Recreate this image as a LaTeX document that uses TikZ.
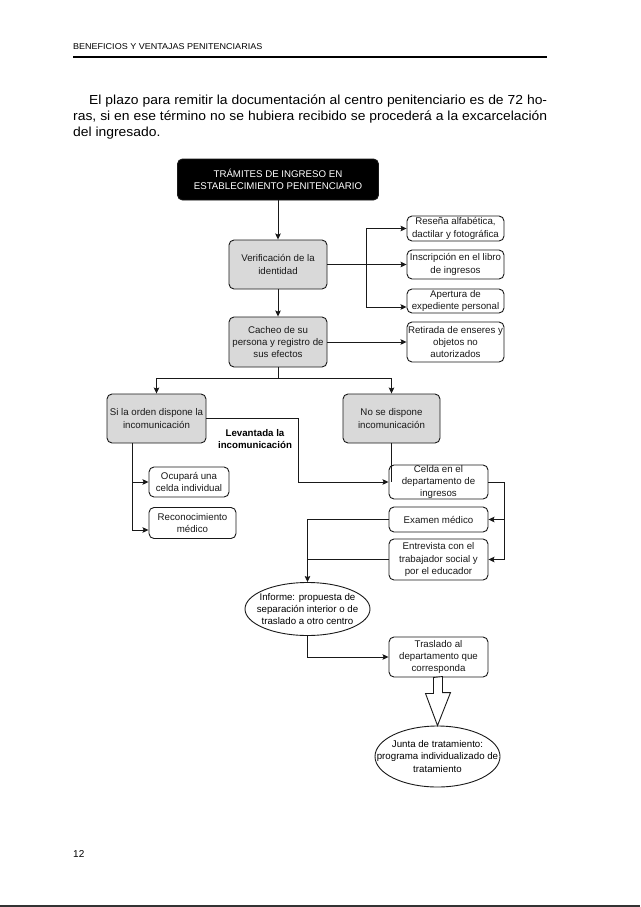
\documentclass[tikz,border=0pt]{standalone}
\usepackage{fontspec}
\setmainfont{Liberation Sans}
\newfontfamily\widefont[FakeStretch=1.06]{Liberation Sans}
\usetikzlibrary{arrows.meta,positioning,calc,shapes.geometric}
\definecolor{stepgray}{RGB}{217,217,217}
\definecolor{inkcolor}{RGB}{25,25,25}
\tikzset{
  box/.style      = {draw=inkcolor, line width=0.9pt, rounded corners=5pt,
                     align=center, inner sep=1pt, text=inkcolor,
                     font=\fontsize{9.7}{12.3}\selectfont},
  stepbox/.style  = {box, fill=stepgray},
  infobox/.style  = {box, fill=white},
  titlebox/.style = {box, fill=black, text=white},
  oval/.style     = {ellipse, draw=inkcolor, line width=0.9pt, fill=white,
                     align=center, inner xsep=-18pt, inner ysep=0pt,
                     font=\fontsize{9.7}{12.3}\selectfont},
  conn/.style     = {-{Stealth[length=6pt,width=5.5pt,inset=1pt]},
                     line width=0.9pt, draw=inkcolor},
  link/.style     = {line width=0.9pt, draw=inkcolor},
  hollow/.style   = {draw=inkcolor, line width=0.9pt, fill=white, line join=miter},
  headtext/.style = {anchor=base west, inner sep=0pt, font=\widefont\fontsize{8.5}{10}\selectfont},
  bodytext/.style = {anchor=base west, inner sep=0pt, font=\widefont\fontsize{13.1}{15}\selectfont},
  boldlabel/.style = {align=center, inner sep=0pt, font=\bfseries\fontsize{9.7}{12.3}\selectfont}
}

\begin{document}
\begin{tikzpicture}[x=1pt,y=-1pt]

% page
\fill[white] (0,0) rectangle (640,907);
\useasboundingbox (0,0) rectangle (640,907);

% --- running head and text ---
\node[headtext] (head) at (73,50) {BENEFICIOS Y VENTAJAS PENITENCIARIAS};
\draw[line width=1.8pt] (73,57) -- (547,57);
\foreach \y/\txt [count=\n] in {
  104.5/{\makebox[474pt][s]{\hspace{16pt}El plazo para remitir la documentación al centro penitenciario es de 72 ho-}},
  120.5/{\makebox[474pt][s]{ras, si en ese término no se hubiera recibido se procederá a la excarcelación}},
  136.5/{del ingresado.}}{
  \node[bodytext] (line\n) at (73,\y) {\txt};
}

% --- top of the chart ---
\node[titlebox, minimum width=201pt, minimum height=41pt] (title) at (278,179.5)
  {TRÁMITES DE INGRESO EN\\ESTABLECIMIENTO PENITENCIARIO};
\node[stepbox, minimum width=98pt, minimum height=49pt] (verif) at (278,264.5)
  {Verificación de la\\identidad};
\node[stepbox, minimum width=98pt, minimum height=50pt] (cacheo) at (278,342)
  {Cacheo de su\\persona y registro de\\sus efectos};

% --- boxes on the right ---
\foreach \name/\y/\h/\txt in {
  resena/228.5/25/{Reseña alfabética,\\dactilar y fotográfica},
  inscrip/264.5/29/{Inscripción en el libro\\de ingresos},
  apertura/301/24/{Apertura de\\expediente personal},
  retirada/342/40/{Retirada de enseres y\\objetos no\\autorizados}}{
  \node[infobox, minimum width=97pt, minimum height=\h pt] (\name) at (455.5,\y) {\txt};
}

\draw[conn] (title.south) -- (verif.north);
\draw[conn] (verif.south) -- (cacheo.north);
\coordinate (vsplit) at (366,264.5);
\draw[link] (verif.east) -- (vsplit);
\draw[conn] (vsplit) |- (resena.west);
\draw[conn] (vsplit) -- (inscrip.west);
\draw[conn] (vsplit) |- ([yshift=-6pt]apertura.west);
\draw[conn] (cacheo.east) -- (retirada.west);

% --- two cases ---
\node[stepbox, minimum width=99pt, minimum height=49pt] (siorden) at (156.5,418.5)
  {Si la orden dispone la\\incomunicación};
\node[stepbox, minimum width=97pt, minimum height=49pt] (nodispone) at (391.5,418.5)
  {No se dispone\\incomunicación};
\coordinate (csplit) at (278,378);
\draw[link] (cacheo.south) -- (csplit);
\draw[conn] (csplit) -| (siorden.north);
\draw[conn] (csplit) -| (nodispone.north);

\node[boldlabel] (levantada) at (255,439) {Levantada la\\incomunicación};

% --- left branch ---
\node[infobox, minimum width=80pt, minimum height=30pt] (ocupara) at (189,482)
  {Ocupará una\\celda individual};
\node[infobox, minimum width=87pt, minimum height=31pt] (reconoc) at (192.5,523)
  {Reconocimiento\\médico};
\draw[conn] ([xshift=-24.5pt]siorden.south) |- (ocupara.west);
\draw[conn] ([xshift=-24.5pt]siorden.south) |- ([yshift=-7pt]reconoc.west);

% --- right branch ---
\node[infobox, minimum width=99pt, minimum height=34pt, inner ysep=-2pt] (celda) at (438.5,482)
  {Celda en el\\departamento de\\ingresos};
\node[infobox, minimum width=99pt, minimum height=25pt] (examen) at (438.5,519.5)
  {Examen médico};
\node[infobox, minimum width=99pt, minimum height=41pt] (entrevista) at (438.5,559.5)
  {Entrevista con el\\trabajador social y\\por el educador};

\draw[conn] (siorden.east) -- ++(92,0) |- (celda.west);
\draw[link] (nodispone.south) -- (nodispone.south |- celda.west);
\coordinate (rsplit) at (504,482);
\draw[link] (celda.east) -- (rsplit);
\draw[conn] (rsplit) |- (examen.east);
\draw[conn] (rsplit) |- (entrevista.east);

% --- report and transfer ---
\node[oval, minimum width=125pt, minimum height=53pt] (informe) at (307.5,609)
  {Informe: propuesta de\\separación interior o de\\traslado a otro centro};
\draw[conn] (examen.west) -| (informe.north);
\draw[link] (entrevista.west) -- (entrevista.west -| informe.north);

\node[infobox, minimum width=99pt, minimum height=40pt] (traslado) at (438.5,657)
  {Traslado al\\departamento que\\corresponda};
\draw[conn] (informe.south) |- (traslado.west);

\node[oval, minimum width=125pt, minimum height=61pt] (junta) at (437.5,756.5)
  {Junta de tratamiento:\\programa individualizado de\\tratamiento};
% hollow block arrow
\draw[hollow] (traslado.south) ++(-5,0) -- ++(0,16) -- ++(-8,0) -- (junta.north)
  -- ++(13,-33) -- ++(-8,0) -- ++(0,-16) -- cycle;

% --- foot ---
\node[anchor=base west, inner sep=0pt, font=\fontsize{10}{12}\selectfont] (pagenum) at (73,857) {12};
\draw[line width=2pt, black!80] (0,906) -- (640,906);

\end{tikzpicture}
\end{document}
